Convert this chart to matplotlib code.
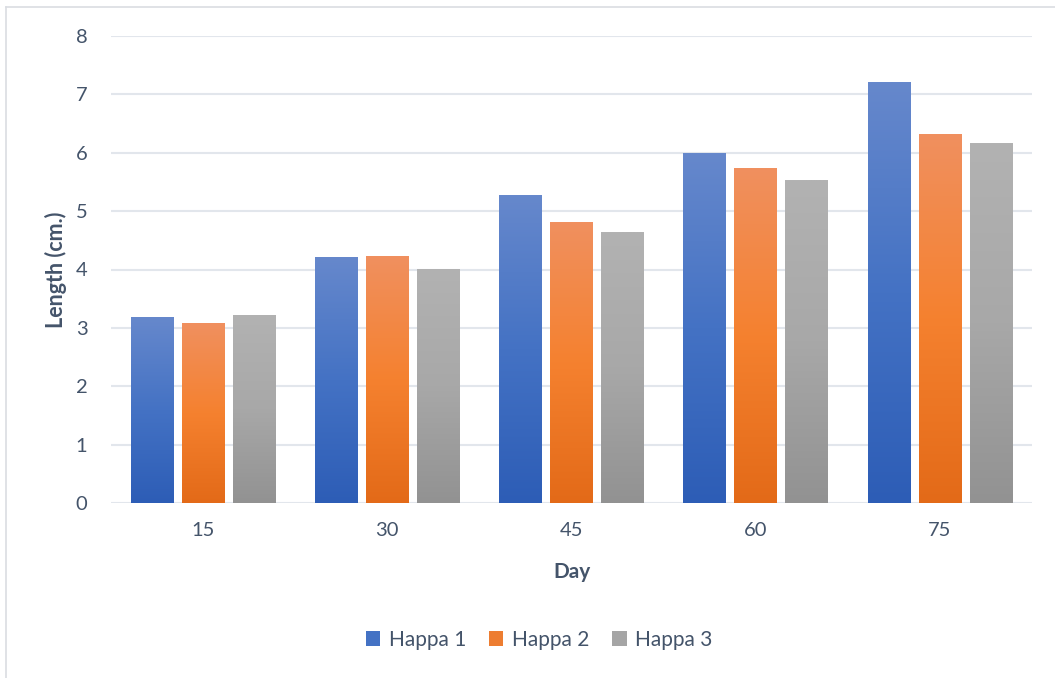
import numpy as np
import matplotlib
matplotlib.use("Agg")
import matplotlib.pyplot as plt
from matplotlib.colors import LinearSegmentedColormap
from matplotlib.lines import Line2D
from matplotlib.patches import Patch

days = ["15", "30", "45", "60", "75"]
happa1 = [3.18, 4.21, 5.27, 5.98, 7.21]
happa2 = [3.08, 4.23, 4.81, 5.73, 6.32]
happa3 = [3.21, 4.00, 4.64, 5.53, 6.16]
series_names = ["Happa 1", "Happa 2", "Happa 3"]
y_ticks = [0, 1, 2, 3, 4, 5, 6, 7, 8]

# gradient stops (top, middle, bottom)
grads = [
    ["#6688CC", "#4472C4", "#2D5DB6"],
    ["#F0905F", "#F5812F", "#E36A18"],
    ["#B2B2B2", "#A8A8A8", "#929292"],
]
mids = ["#4472C4", "#ED7D31", "#A5A5A5"]
text_color = "#44546A"
grid_color = "#E2E6EC"

plt.rcParams['font.family'] = ['Lato', 'DejaVu Sans']

W, H = 1055, 678
fig = plt.figure(figsize=(W / 100, H / 100), dpi=100)
ax = fig.add_axes([111 / W, 1 - 503 / H, (1032 - 111) / W, (503 - 36) / H])

x = np.arange(len(days))
bw = 0.232
off = 0.277
all_series = [happa1, happa2, happa3]
gvec = np.linspace(0, 1, 256).reshape(-1, 1)
for i, vals in enumerate(all_series):
    bars = ax.bar(x + (i - 1) * off, vals, width=bw, color=mids[i], zorder=2,
                  linewidth=0)
    cmap = LinearSegmentedColormap.from_list(f"g{i}", grads[i])
    for b in bars:
        x0, w, h = b.get_x(), b.get_width(), b.get_height()
        ax.imshow(gvec, extent=[x0, x0 + w, 0, h], cmap=cmap, aspect='auto',
                  origin='upper', zorder=3, interpolation='bilinear')

ax.set_xlim(-0.5, len(days) - 0.5)
ax.set_ylim(0, 8)
ax.set_yticks(y_ticks)
ax.set_yticklabels([str(t) for t in y_ticks])
ax.set_xticks(x)
ax.set_xticklabels(days)
ax.tick_params(axis='both', length=0, labelsize=14.5, colors=text_color)
ax.tick_params(axis='y', pad=17)
ax.tick_params(axis='x', pad=14)
for s in ax.spines.values():
    s.set_visible(False)
ax.grid(axis='y', color=grid_color, linewidth=1.5, zorder=0)
ax.set_axisbelow(True)

fig.text(572 / W, 1 - 572 / H, "Day", ha='center', va='center',
         fontsize=15, fontweight='bold', color=text_color)
fig.text(56 / W, 1 - 270 / H, "Length (cm.)", ha='center', va='center',
         rotation=90, fontsize=15.5, fontweight='bold', color=text_color)

handles = [Patch(facecolor=mids[i], edgecolor='none') for i in range(3)]
leg = fig.legend(handles, series_names, loc='center', ncol=3,
                 bbox_to_anchor=(539 / W, 1 - 640 / H), frameon=False,
                 fontsize=15, handlelength=0.7, handleheight=0.7,
                 handletextpad=0.4, columnspacing=1.1)
for t in leg.get_texts():
    t.set_color(text_color)

# chart outer border
fig.add_artist(Line2D([6 / W, 1.0], [1 - 7 / H, 1 - 7 / H], color="#DADDE2",
                      linewidth=1.2, transform=fig.transFigure))
fig.add_artist(Line2D([6 / W, 6 / W], [0, 1 - 7 / H], color="#DADDE2",
                      linewidth=1.2, transform=fig.transFigure))

fig.savefig("out.png", dpi=100, facecolor="white")
